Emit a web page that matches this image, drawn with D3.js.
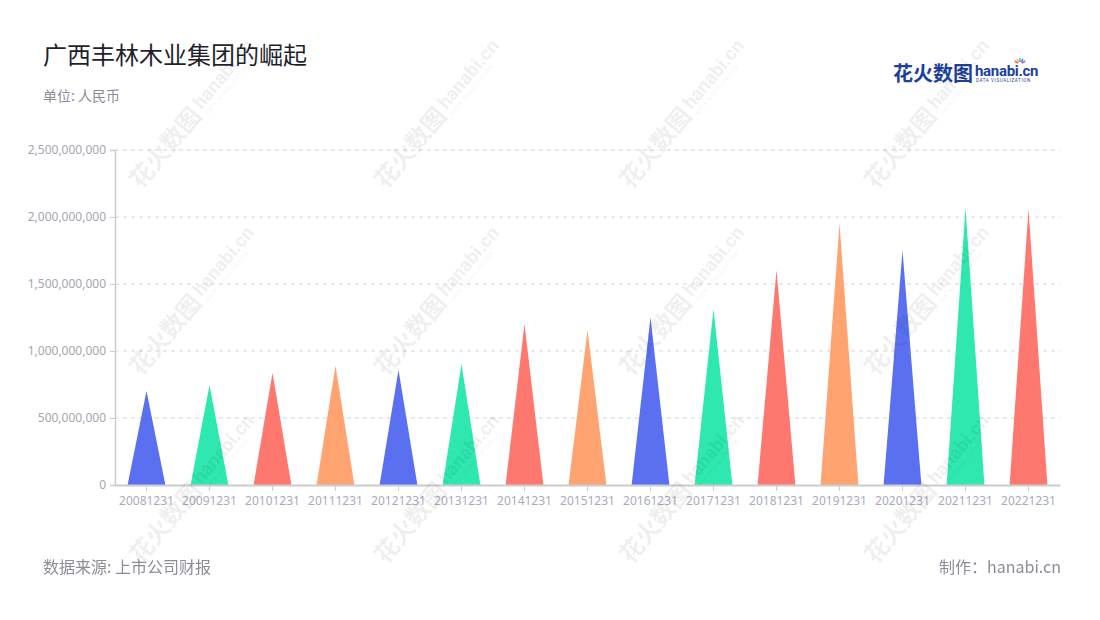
<!DOCTYPE html>
<html><head><meta charset="utf-8">
<script src="https://cdn.jsdelivr.net/npm/d3@7"></script>
<style>
html,body{margin:0;padding:0;background:#fff;}
svg{display:block;font-family:"Noto Sans","Noto Sans CJK SC",sans-serif;}
</style></head>
<body><svg id="chart" width="1100" height="620"></svg>
<script>
const categories = ["20081231","20091231","20101231","20111231","20121231","20131231","20141231","20151231","20161231","20171231","20181231","20191231","20201231","20211231","20221231"];
const values = [701000000,746000000,838000000,890000000,858000000,903000000,1201000000,1157000000,1250000000,1311000000,1604000000,1953000000,1749000000,2072000000,2060000000];
const yTicks = [0,500000000,1000000000,1500000000,2000000000,2500000000];
const palette = ["#5A70F0","#2EE8B0","#FF7870","#FFA470"];
const titleText = "广西丰林木业集团的崛起";
const unitText = "单位: 人民币";
const sourceText = "数据来源: 上市公司财报";
const makerText = "制作：hanabi.cn";

const svg = d3.select("#chart");
const M = {left:115, right:1060, top:150, bottom:485};

const x = d3.scaleBand().domain(categories).range([M.left, M.right]).padding(0);
const y = d3.scaleLinear().domain([0, 2500000000]).range([M.bottom, M.top]);

// title
svg.append("text").attr("x",43).attr("y",64).attr("font-size",24).attr("fill","#1f1f2e")
  .attr("font-family","'Noto Sans CJK SC',sans-serif").text(titleText);
svg.append("text").attr("x",43).attr("y",101).attr("font-size",14).attr("fill","#8c8c99")
  .attr("font-family","'Noto Sans CJK SC',sans-serif").text(unitText);

// logo
const logo = svg.append("g").attr("transform","translate(893,81)");
logo.append("text").attr("x",0).attr("y",0).attr("font-size",20).attr("font-weight","bold")
  .attr("fill","#1d3f9e").attr("font-family","'Noto Sans CJK SC',sans-serif").text("花火数图");
logo.append("text").attr("x",82).attr("y",-5).attr("font-size",15).attr("font-weight","bold")
  .attr("fill","#1d3f9e").attr("font-family","Roboto,sans-serif").attr("letter-spacing","-0.3").text("hanabi.cn");
logo.append("text").attr("x",83).attr("y",1).attr("font-size",4.5).attr("fill","#1d3f9e")
  .attr("font-family","Roboto,sans-serif").attr("letter-spacing","0.6").text("DATA VISUALIZATION");
const sparkColors = ["#ff5a5a","#ffb84d","#4dd28a","#4d8cff","#b45aff"];
sparkColors.forEach((c,i)=>{
  const a = -150 + i*30;
  const r = a*Math.PI/180;
  logo.append("line").attr("x1",127+Math.cos(r)*2).attr("y1",-17+Math.sin(r)*2)
    .attr("x2",127+Math.cos(r)*6).attr("y2",-17+Math.sin(r)*6).attr("stroke",c).attr("stroke-width",1.6);
});

// grid
const grid = svg.append("g");
yTicks.forEach(t=>{
  if(t===0) return;
  grid.append("line").attr("x1",M.left).attr("x2",M.right).attr("y1",y(t)).attr("y2",y(t))
    .attr("stroke","#e3e3e3").attr("stroke-width",1.5).attr("stroke-dasharray","4,4");
});

// y axis
const yAxis = svg.append("g").attr("transform",`translate(${M.left},0)`)
  .call(d3.axisLeft(y).tickValues(yTicks).tickSize(5).tickPadding(4).tickFormat(d3.format(",")));
yAxis.select(".domain").attr("stroke","#cccccc").attr("stroke-width",1.5);
yAxis.selectAll(".tick line").attr("stroke","#cccccc");
yAxis.selectAll(".tick text").attr("fill","#a6a6b0").attr("font-size",12).attr("font-family","'Noto Sans',sans-serif");

// bars (triangles)
const bw = x.bandwidth()*0.6;
svg.append("g").selectAll("path").data(values).enter().append("path")
  .attr("d",(d,i)=>{
    const cx = x(categories[i]) + x.bandwidth()/2;
    return `M${cx-bw/2},${y(0)}L${cx},${y(d)}L${cx+bw/2},${y(0)}Z`;
  })
  .attr("fill",(d,i)=>palette[i%4]);

// x axis
const xAxis = svg.append("g").attr("transform",`translate(0,${M.bottom})`)
  .call(d3.axisBottom(x).tickSize(6).tickPadding(5).tickSizeOuter(0));
xAxis.select(".domain").attr("stroke","#cccccc").attr("stroke-width",2);
xAxis.selectAll(".tick line").attr("stroke","#cccccc");
xAxis.selectAll(".tick text").attr("fill","#a9abbb").attr("font-size",12).attr("font-family","'Noto Sans',sans-serif");

// watermarks
const wm = svg.append("g").attr("opacity",0.065).attr("pointer-events","none");
[185,430,675,920].forEach(cx=>{
  [125,312,500].forEach(cy=>{
    const g = wm.append("g").attr("transform",`translate(${cx},${cy}) rotate(-50)`);
    g.append("text").attr("x",-78).attr("y",8).attr("font-size",24).attr("font-weight","bold")
      .attr("fill","#000").attr("font-family","'Noto Sans CJK SC',sans-serif").text("花火数图");
    g.append("text").attr("x",22).attr("y",3).attr("font-size",19).attr("font-weight","bold")
      .attr("fill","#000").attr("font-family","Roboto,sans-serif").text("hanabi.cn");
    g.append("text").attr("x",23).attr("y",11).attr("font-size",5).attr("fill","#000")
      .attr("font-family","Roboto,sans-serif").attr("letter-spacing","0.8").text("DATA VISUALIZATION");
  });
});

// footer
svg.append("text").attr("x",43).attr("y",573).attr("font-size",16).attr("fill","#8c8c99")
  .attr("font-family","'Noto Sans CJK SC',sans-serif").text(sourceText);
svg.append("text").attr("x",1061).attr("y",573).attr("text-anchor","end").attr("font-size",16).attr("fill","#8c8c99")
  .attr("font-family","'Noto Sans CJK SC',sans-serif").text(makerText);
</script>
</body></html>
